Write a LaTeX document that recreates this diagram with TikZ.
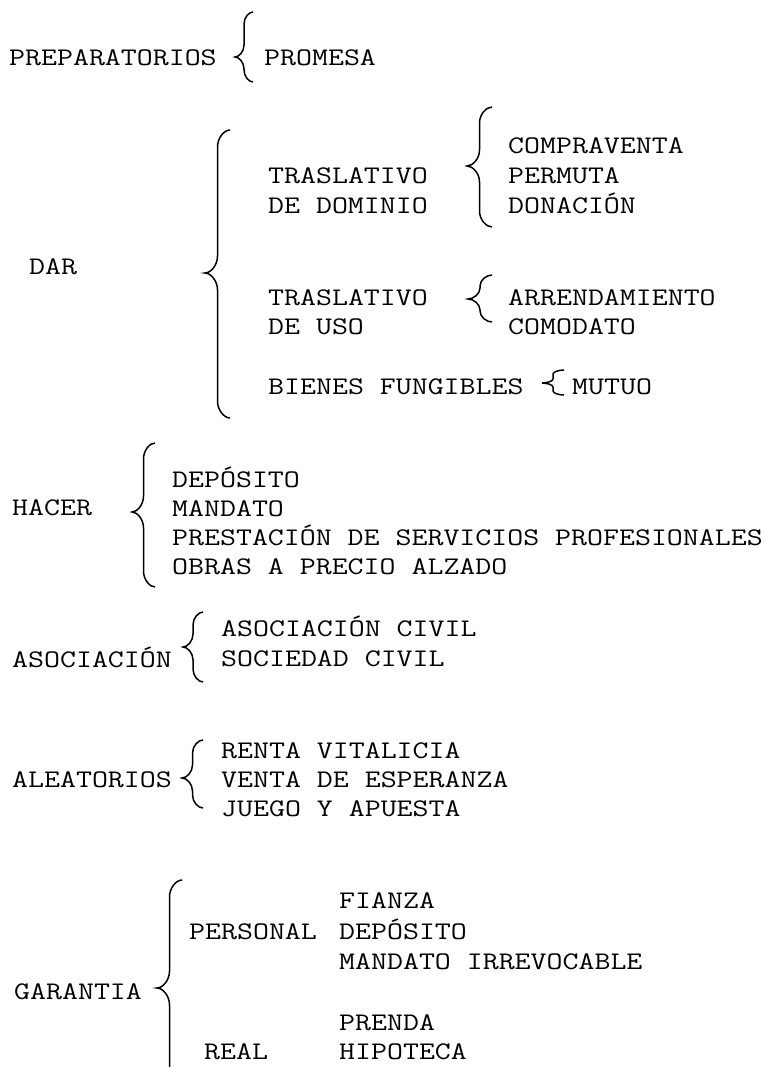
\documentclass[tikz,border=0pt]{standalone}
\usepackage{fontspec}
\newfontfamily\monofam[FakeStretch=1.225]{Latin Modern Mono}

\tikzset{
	item/.style={anchor=west, inner sep=0pt, text height=15pt, text depth=0pt,
		font=\monofam\fontsize{25.3}{30}\selectfont},
	llavelinea/.style={line width=1.5pt}
}
% x derecho, y arriba, y punta, y abajo, media anchura, radio vertical
\newcommand{\llave}[6]{%
	\draw[llavelinea] (#1,#2) .. controls ({#1-0.45*#5},#2) and ({#1-#5},{#2+0.45*#6}) .. ({#1-#5},{#2+#6})
		-- ({#1-#5},{#3-#6}) .. controls ({#1-#5},{#3-0.45*#6}) and ({#1-1.55*#5},#3) .. ({#1-2*#5},#3)
		.. controls ({#1-1.55*#5},#3) and ({#1-#5},{#3+0.45*#6}) .. ({#1-#5},{#3+#6})
		-- ({#1-#5},{#4-#6}) .. controls ({#1-#5},{#4-0.45*#6}) and ({#1-0.45*#5},#4) .. (#1,#4);}

\begin{document}
\begin{tikzpicture}[x=1pt,y=-1pt]
		\useasboundingbox (0,0) rectangle (769,1067);
		\node[item] (prep) at (9,58) {PREPARATORIOS};
		\node[item] (promesa) at (264,58) {PROMESA};
		\llave{253}{12}{57}{82}{9}{12}

		\node[item] (dar) at (29,267) {DAR};
		\llave{230}{130}{273}{418}{12.5}{17}
		\node[item] (tdom) at (268,176) {TRASLATIVO};
		\node[item] (tdom2) at (268,206) {DE DOMINIO};
		\llave{492}{107}{166}{227}{12.5}{16}
		\node[item] (compra) at (508,146) {COMPRAVENTA};
		\node[item] (permuta) at (508,176) {PERMUTA};
		\node[item] (donacion) at (508,206) {DONACIÓN};
		\node[item] (tuso) at (268,298) {TRASLATIVO};
		\node[item] (tuso2) at (268,327) {DE USO};
		\llave{492}{275}{299}{322}{12}{11}
		\node[item] (arrend) at (508,298) {ARRENDAMIENTO};
		\node[item] (comodato) at (508,327) {COMODATO};
		\node[item] (bienes) at (268,387) {BIENES FUNGIBLES};
		\llave{564}{370}{383}{395}{11}{4}
		\node[item] (mutuo) at (572,387) {MUTUO};

		\node[item] (hacer) at (12,508) {HACER};
		\llave{155}{443}{512}{587}{11.5}{16}
		\node[item] (deposito) at (172,480) {DEPÓSITO};
		\node[item] (mandato) at (172,509) {MANDATO};
		\node[item] (prestacion) at (172,538) {PRESTACIÓN DE SERVICIOS PROFESIONALES};
		\node[item] (obras) at (172,567) {OBRAS A PRECIO ALZADO};

		\node[item] (asoc) at (12,660) {ASOCIACIÓN};
		\llave{203}{612}{647}{682}{10}{13}
		\node[item] (acivil) at (221,629) {ASOCIACIÓN CIVIL};
		\node[item] (scivil) at (221,659) {SOCIEDAD CIVIL};

		\node[item] (alea) at (12,780) {ALEATORIOS};
		\llave{203}{740}{778}{808}{10.5}{13}
		\node[item] (renta) at (221,751) {RENTA VITALICIA};
		\node[item] (venta) at (221,780) {VENTA DE ESPERANZA};
		\node[item] (juego) at (221,809) {JUEGO Y APUESTA};

		\node[item] (garantia) at (14,992) {GARANTIA};
		\llave{182}{880}{988}{1100}{12.5}{17}
		\node[item] (personal) at (189,932) {PERSONAL};
		\node[item] (fianza) at (339,901) {FIANZA};
		\node[item] (depgar) at (339,932) {DEPÓSITO};
		\node[item] (mirrev) at (339,962) {MANDATO IRREVOCABLE};
		\node[item] (real) at (204,1052) {REAL};
		\node[item] (prenda) at (339,1023) {PRENDA};
		\node[item] (hipoteca) at (339,1052) {HIPOTECA};
\end{tikzpicture}
\end{document}
